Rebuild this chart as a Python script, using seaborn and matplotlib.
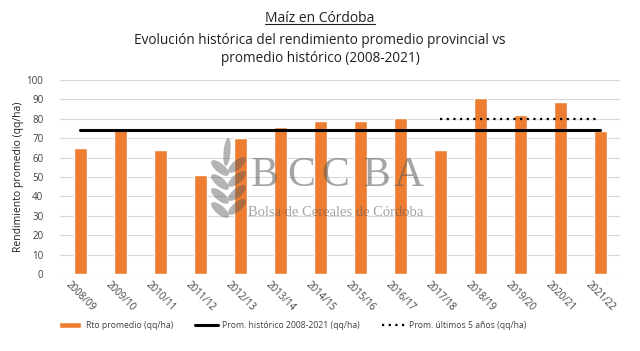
import pandas as pd
import matplotlib.pyplot as plt
import seaborn as sns
from matplotlib.lines import Line2D
from matplotlib.patches import Ellipse

campanias = ["2008/09", "2009/10", "2010/11", "2011/12", "2012/13", "2013/14", "2014/15",
             "2015/16", "2016/17", "2017/18", "2018/19", "2019/20", "2020/21", "2021/22"]
rendimiento = [65, 75, 64, 51, 70, 76, 79, 79, 80.5, 64, 90.5, 82, 88.5, 73.5]
prom_historico = 74.2
prom_ultimos_5 = 80
inicio_ultimos_5 = "2017/18"

df = pd.DataFrame({"Campaña": campanias, "Rendimiento": rendimiento})

sns.set_style("white")
plt.rcParams["font.family"] = ["Open Sans", "DejaVu Sans"]

fig = plt.figure(figsize=(6.4, 3.51), dpi=100)
ax = fig.add_axes([0.094, 0.219, 0.875, 0.553])

sns.barplot(x="Campaña", y="Rendimiento", data=df, color="#ED7D31", saturation=1,
            width=0.32, ax=ax, zorder=2, label="Rto promedio (qq/ha)")
if ax.legend_ is not None:
    ax.legend_.remove()

# lineas de promedio
ax.plot([0, len(campanias) - 1], [prom_historico] * 2, color="black", lw=2.2, zorder=3,
        label="Prom. histórico 2008-2021 (qq/ha)")
i0 = campanias.index(inicio_ultimos_5)
ax.plot([i0, len(campanias) - 1], [prom_ultimos_5] * 2, color="black", lw=1.6,
        linestyle=(0, (1, 2)), zorder=3, label="Prom. últimos 5 años (qq/ha)")

ax.set_xlim(-0.5, len(campanias) - 0.5)
ax.set_ylim(0, 100)
ax.set_yticks(range(0, 101, 10))
ax.yaxis.grid(True, color="#D9D9D9", lw=0.8, zorder=0)
ax.set_axisbelow(True)
for s in ax.spines.values():
    s.set_visible(False)
ax.tick_params(axis="both", length=0, labelsize=7, colors="#404040")
ax.tick_params(axis="y", pad=12)
ax.set_xlabel("")
ax.set_ylabel("Rendimiento promedio (qq/ha)", fontsize=7.5, color="#202020", labelpad=2)
plt.setp(ax.get_xticklabels(), rotation=-45, ha="center")

# marca de agua (logo BCCBA), semitransparente sobre las barras
gris = "#5A5A5A"
for x, letra in zip([0.414, 0.47, 0.524, 0.588, 0.638], "BCCBA"):
    fig.text(x, 0.50, letra, fontsize=30, family="Liberation Serif", color=gris, alpha=0.55,
             ha="center", va="center", zorder=5)
fig.text(0.525, 0.395, "Bolsa de Cereales de Córdoba", fontsize=10.5, family="Liberation Serif",
         color=gris, alpha=0.55, ha="center", va="center", zorder=5)

# espiga del logo
axl = fig.add_axes([210 / 640, 1 - 222 / 351, 38 / 640, 86 / 351])
axl.set_xlim(0, 38)
axl.set_ylim(0, 86)
axl.axis("off")
axl.patch.set_alpha(0)
axl.add_patch(Ellipse((17, 70), 7, 28, angle=-5, color=gris, alpha=0.45, lw=0))
for yy in [48, 34, 20, 6]:
    axl.add_patch(Ellipse((10, yy + 6), 22, 9, angle=140, color=gris, alpha=0.45, lw=0))
    axl.add_patch(Ellipse((27, yy + 9), 22, 9, angle=40, color=gris, alpha=0.45, lw=0))

# titulos
t1 = fig.text(0.5, 0.948, "Maíz en Córdoba", fontsize=10, ha="center", va="center", color="#202020")
fig.text(0.5, 0.885, "Evolución histórica del rendimiento promedio provincial vs",
         fontsize=9.8, ha="center", va="center", color="#202020")
fig.text(0.5, 0.833, "promedio histórico (2008-2021)", fontsize=9.8, ha="center", va="center",
         color="#202020")
fig.canvas.draw()
bb = t1.get_window_extent().transformed(fig.transFigure.inverted())
fig.add_artist(Line2D([bb.x0, bb.x1], [bb.y0 + 0.004] * 2, color="#202020", lw=0.8,
                      transform=fig.transFigure))

handles, labels = ax.get_legend_handles_labels()
orden = [labels.index("Rto promedio (qq/ha)"),
         labels.index("Prom. histórico 2008-2021 (qq/ha)"),
         labels.index("Prom. últimos 5 años (qq/ha)")]
fig.legend([handles[i] for i in orden], [labels[i] for i in orden], loc="center left",
           bbox_to_anchor=(0.08, 0.072), ncol=3, frameon=False,
           fontsize=6.2, handlelength=2.6, columnspacing=2.6, handletextpad=0.5,
           labelcolor="#404040")

fig.savefig("out.png", dpi=100, facecolor="white")
